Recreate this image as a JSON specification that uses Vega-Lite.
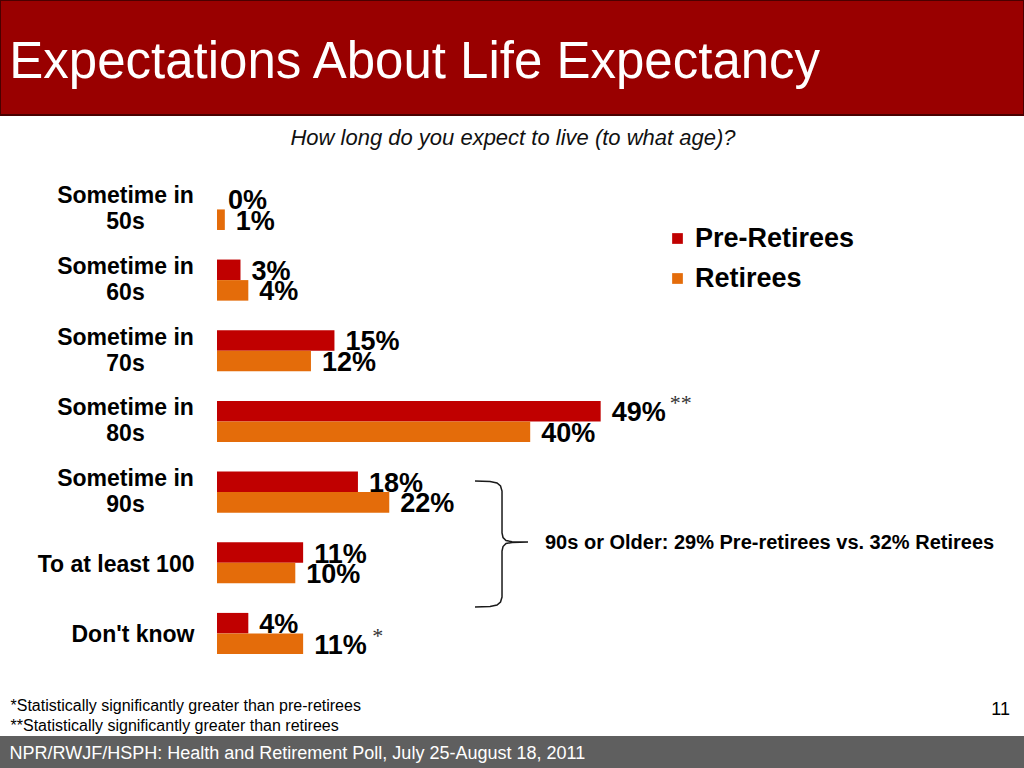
{
  "$schema": "https://vega.github.io/schema/vega-lite/v6.json",
  "width": 1024,
  "height": 768,
  "autosize": {"type": "fit", "contains": "padding"},
  "padding": 0,
  "background": "#ffffff",
  "config": {"view": {"stroke": null}, "font": "Liberation Sans"},
  "layer": [
    {
      "data": {
        "values": [
          {"age": "Sometime in 50s", "group": "Pre-Retirees", "share": 0.00, "sig": ""},
          {"age": "Sometime in 50s", "group": "Retirees", "share": 0.01, "sig": ""},
          {"age": "Sometime in 60s", "group": "Pre-Retirees", "share": 0.03, "sig": ""},
          {"age": "Sometime in 60s", "group": "Retirees", "share": 0.04, "sig": ""},
          {"age": "Sometime in 70s", "group": "Pre-Retirees", "share": 0.15, "sig": ""},
          {"age": "Sometime in 70s", "group": "Retirees", "share": 0.12, "sig": ""},
          {"age": "Sometime in 80s", "group": "Pre-Retirees", "share": 0.49, "sig": "**"},
          {"age": "Sometime in 80s", "group": "Retirees", "share": 0.40, "sig": ""},
          {"age": "Sometime in 90s", "group": "Pre-Retirees", "share": 0.18, "sig": ""},
          {"age": "Sometime in 90s", "group": "Retirees", "share": 0.22, "sig": ""},
          {"age": "To at least 100", "group": "Pre-Retirees", "share": 0.11, "sig": ""},
          {"age": "To at least 100", "group": "Retirees", "share": 0.10, "sig": ""},
          {"age": "Don't know", "group": "Pre-Retirees", "share": 0.04, "sig": ""},
          {"age": "Don't know", "group": "Retirees", "share": 0.11, "sig": "*"}
        ]
      },
      "encoding": {
        "y": {
          "field": "age", "type": "nominal", "sort": null,
          "scale": {
            "domain": [" ", "Sometime in 50s", "Sometime in 60s", "Sometime in 70s", "Sometime in 80s", "Sometime in 90s", "To at least 100", "Don't know", "  "],
            "paddingInner": 0, "paddingOuter": 0.9337, "align": 0.7837
          },
          "axis": {
            "orient": "left", "offset": -217, "title": null, "domain": false, "ticks": false, "tickSize": 0, "grid": false,
            "labelFont": "Liberation Sans", "labelFontSize": 23, "labelFontWeight": "bold", "labelColor": "#000000",
            "labelLineHeight": 26, "labelLimit": 400, "labelBaseline": "middle",
            "labelExpr": "indexof(datum.label, 'Sometime in') == 0 ? ['Sometime in', substring(datum.label, 12)] : datum.label",
            "labelAlign": {"condition": {"test": "indexof(datum.value, 'Sometime') == 0", "value": "center"}, "value": "right"},
            "labelPadding": {"condition": {"test": "indexof(datum.value, 'Sometime') == 0", "value": 92}, "value": 23},
            "labelOffset": {"condition": {"test": "indexof(datum.value, 'Sometime') == 0", "value": -13}, "value": 2}
          }
        },
        "yOffset": {
          "field": "group", "type": "nominal",
          "scale": {"domain": ["Pre-Retirees", "Retirees"], "paddingInner": 0, "paddingOuter": 0.72}
        },
        "x": {
          "field": "share", "type": "quantitative",
          "scale": {"domain": [-0.27714, 1.03065], "nice": false, "zero": false},
          "axis": null
        }
      },
      "layer": [
        {
          "mark": {"type": "bar"},
          "encoding": {
            "x2": {"datum": 0},
            "color": {
              "field": "group", "type": "nominal",
              "scale": {"domain": ["Pre-Retirees", "Retirees"], "range": ["#C00000", "#E46C0A"]},
              "legend": {
                "orient": "none", "legendX": 664, "legendY": 225, "title": null,
                "symbolType": "square", "symbolSize": 115, "symbolStrokeWidth": 0,
                "labelFont": "Liberation Sans", "labelFontSize": 27, "labelFontWeight": "bold", "labelColor": "#000000",
                "labelOffset": 4, "rowPadding": 12, "padding": 0
              }
            }
          }
        },
        {
          "mark": {"type": "text", "align": "left", "baseline": "middle", "dx": 11, "dy": 2, "fontSize": 27, "fontWeight": "bold", "font": "Liberation Sans", "color": "#000000"},
          "encoding": {"text": {"field": "share", "type": "quantitative", "format": ".0%"}}
        },
        {
          "mark": {"type": "text", "align": "left", "baseline": "alphabetic", "dx": 69, "dy": -1, "fontSize": 22, "font": "Liberation Serif", "color": "#333333"},
          "encoding": {"text": {"field": "sig", "type": "nominal"}}
        }
      ]
    },
    {
      "layer": [
        {
          "data": {"values": [{}]},
          "mark": {"type": "rect", "color": "#990000", "stroke": "#4a0000", "strokeWidth": 2, "clip": true},
          "encoding": {
            "x": {"datum": -0.27714, "type": "quantitative", "axis": null},
            "x2": {"datum": 1.03065},
            "y": {"datum": -2.964, "type": "quantitative", "scale": {"domain": [-2.964, 7.902], "reverse": true, "nice": false, "zero": false}, "axis": null},
            "y2": {"datum": -1.337}
          }
        },
        {
          "data": {"values": [{}]},
          "mark": {"type": "rect", "color": "#5f5f5f", "clip": true},
          "encoding": {
            "x": {"datum": -0.27714, "type": "quantitative", "axis": null},
            "x2": {"datum": 1.03065},
            "y": {"datum": 7.45, "type": "quantitative", "axis": null},
            "y2": {"datum": 7.902}
          }
        },
        {
          "data": {"values": [{}]},
          "mark": {"type": "text", "text": "Expectations About Life Expectancy", "align": "left", "baseline": "alphabetic", "fontSize": 51, "font": "Liberation Sans", "color": "#ffffff"},
          "encoding": {
            "x": {"datum": -0.2653, "type": "quantitative", "axis": null},
            "y": {"datum": -1.854, "type": "quantitative", "axis": null}
          }
        },
        {
          "data": {"values": [{}]},
          "mark": {"type": "text", "text": "How long do you expect to live (to what age)?", "align": "center", "baseline": "alphabetic", "fontSize": 22, "fontStyle": "italic", "font": "Liberation Sans", "color": "#111111"},
          "encoding": {
            "x": {"datum": 0.378, "type": "quantitative", "axis": null},
            "y": {"datum": -0.9127, "type": "quantitative", "axis": null}
          }
        },
        {
          "data": {
            "values": [
              {"o": 1, "bx": 0.3295, "by": 3.8418},
              {"o": 2, "bx": 0.3487, "by": 3.8489},
              {"o": 3, "bx": 0.3576, "by": 3.8701},
              {"o": 4, "bx": 0.3621, "by": 3.9125},
              {"o": 5, "bx": 0.3640, "by": 3.9833},
              {"o": 6, "bx": 0.3640, "by": 4.5776},
              {"o": 7, "bx": 0.3653, "by": 4.6413},
              {"o": 8, "bx": 0.3691, "by": 4.6837},
              {"o": 9, "bx": 0.3768, "by": 4.6993},
              {"o": 10, "bx": 0.3972, "by": 4.7050},
              {"o": 11, "bx": 0.3768, "by": 4.7106},
              {"o": 12, "bx": 0.3691, "by": 4.7262},
              {"o": 13, "bx": 0.3653, "by": 4.7686},
              {"o": 14, "bx": 0.3640, "by": 4.8323},
              {"o": 15, "bx": 0.3640, "by": 5.4832},
              {"o": 16, "bx": 0.3621, "by": 5.5540},
              {"o": 17, "bx": 0.3576, "by": 5.5964},
              {"o": 18, "bx": 0.3487, "by": 5.6177},
              {"o": 19, "bx": 0.3295, "by": 5.6247}
            ]
          },
          "mark": {"type": "line", "color": "#1a1a1a", "strokeWidth": 1.5},
          "encoding": {
            "x": {"field": "bx", "type": "quantitative", "axis": null},
            "y": {"field": "by", "type": "quantitative", "axis": null},
            "order": {"field": "o", "type": "quantitative"}
          }
        },
        {
          "data": {"values": [{}]},
          "mark": {"type": "text", "text": "90s or Older: 29% Pre-retirees vs. 32% Retirees", "align": "left", "baseline": "middle", "fontSize": 20, "fontWeight": "bold", "font": "Liberation Sans", "color": "#000000"},
          "encoding": {
            "x": {"datum": 0.4189, "type": "quantitative", "axis": null},
            "y": {"datum": 4.712, "type": "quantitative", "axis": null}
          }
        },
        {
          "data": {"values": [{}]},
          "mark": {"type": "text", "text": ["*Statistically significantly greater than pre-retirees", "**Statistically significantly greater than retirees"], "lineHeight": 19.7, "align": "left", "baseline": "alphabetic", "fontSize": 16, "font": "Liberation Sans", "color": "#000000"},
          "encoding": {
            "x": {"datum": -0.2637, "type": "quantitative", "axis": null},
            "y": {"datum": 7.096, "type": "quantitative", "axis": null}
          }
        },
        {
          "data": {"values": [{}]},
          "mark": {"type": "text", "text": "11", "align": "right", "baseline": "alphabetic", "fontSize": 18, "font": "Liberation Sans", "color": "#000000"},
          "encoding": {
            "x": {"datum": 1.0128, "type": "quantitative", "axis": null},
            "y": {"datum": 7.153, "type": "quantitative", "axis": null}
          }
        },
        {
          "data": {"values": [{}]},
          "mark": {"type": "text", "text": "NPR/RWJF/HSPH: Health and Retirement Poll, July 25-August 18, 2011", "align": "left", "baseline": "alphabetic", "fontSize": 18, "font": "Liberation Sans", "color": "#ffffff"},
          "encoding": {
            "x": {"datum": -0.2649, "type": "quantitative", "axis": null},
            "y": {"datum": 7.78, "type": "quantitative", "axis": null}
          }
        }
      ]
    }
  ],
  "resolve": {"scale": {"y": "independent"}}
}
